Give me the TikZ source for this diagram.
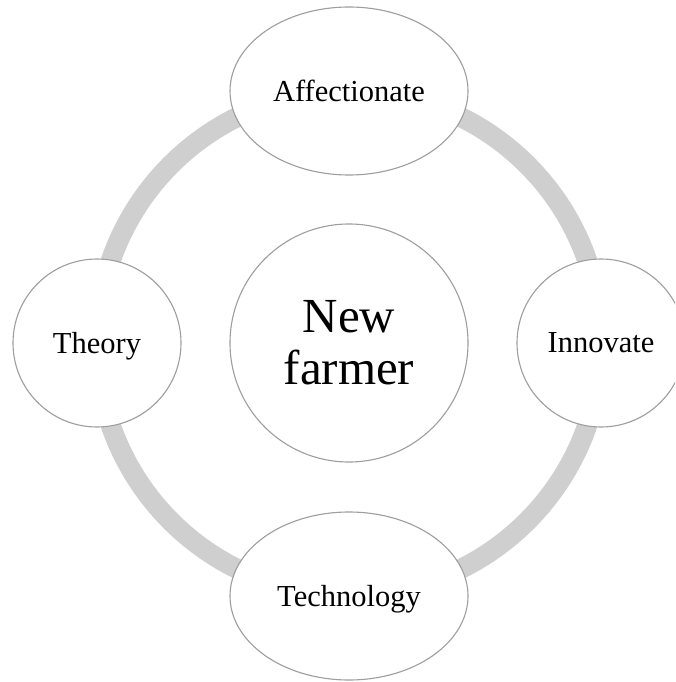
\documentclass[tikz,border=0pt]{standalone}
\usepackage{fontspec}
\setmainfont{Liberation Serif}
\usetikzlibrary{shapes.geometric}
\definecolor{ringgray}{HTML}{CFCFCF}
\definecolor{edgegray}{HTML}{9E9E9E}
\tikzset{
  ringline/.style={draw=ringgray, line width=20pt},
  bubble/.style={draw=edgegray, fill=white, line width=1.1pt, inner sep=0pt,
    font=\fontsize{30.5}{36}\selectfont, text depth=0pt},
  ovalbubble/.style={bubble, ellipse, minimum width=238pt, minimum height=168pt},
  roundbubble/.style={bubble, circle, minimum size=168pt},
  hubbubble/.style={draw=edgegray, fill=white, line width=1.1pt, circle, inner sep=0pt,
    minimum size=238pt, align=center, font=\fontsize{49}{52}\selectfont}
}
\begin{document}
\begin{tikzpicture}[x=1pt, y=-1pt]
\useasboundingbox (0,0) rectangle (675,682);
\clip (0,0) rectangle (675,682);
\fill[white] (0,0) rectangle (675,682);
\coordinate (ringc) at (349,343);
\draw[ringline] (ringc) circle[radius=252pt];
\node[hubbubble] (hub) at (ringc) {New\\farmer};
\node[ovalbubble] (aff) at (349,91) {Affectionate};
\node[ovalbubble] (tech) at (349,596) {Technology};
\node[roundbubble] (theo) at (97,343) {Theory};
\node[roundbubble] (inno) at (601,343) {Innovate};
\end{tikzpicture}
\end{document}
